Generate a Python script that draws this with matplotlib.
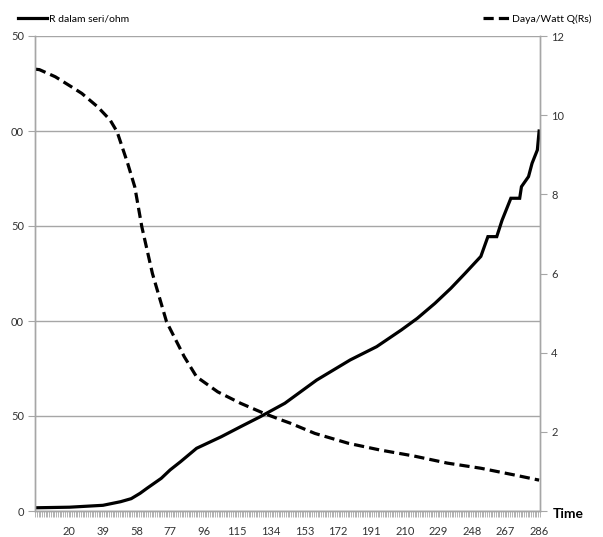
import numpy as np
import matplotlib.pyplot as plt
from matplotlib.lines import Line2D

# Data
t_r = [1, 20, 39, 49, 55, 60, 64, 72, 77, 83, 92, 106, 117, 128, 142, 160, 179, 194, 208,
       217, 227, 236, 244, 253, 257, 262, 265, 270, 275, 276, 280, 282, 285, 286]
r_seri = [1.7, 2.0, 3.0, 4.9, 6.5, 9.3, 12.0, 17.2, 21.6, 26.0, 33.0, 39.1, 44.4, 49.6, 56.7,
          68.9, 79.5, 86.5, 95.3, 101.4, 109.3, 117.2, 125.0, 134.0, 144.4, 144.4, 153.0,
          164.6, 164.6, 170.7, 176.0, 183.0, 190.0, 200.0]

t_p = [1, 3, 12, 21, 27, 36, 43, 47, 53, 57, 61, 67, 75, 85, 92, 104, 117, 130, 140, 145,
       159, 178, 196, 215, 234, 253, 272, 286]
daya = [11.16, 11.15, 10.97, 10.72, 10.55, 10.21, 9.88, 9.58, 8.78, 8.19, 7.18, 6.0, 4.78,
        3.9, 3.39, 3.01, 2.72, 2.47, 2.30, 2.22, 1.96, 1.71, 1.54, 1.39, 1.21, 1.08, 0.91, 0.78]

n_cat = 286
x_labels = list(range(20, 287, 19))
left_ticks = [0, 50, 100, 150, 200, 250]
left_labels = ['0', '50', '00', '50', '00', '50']  # truncated in the original
right_ticks = [0, 2, 4, 6, 8, 10, 12]

plt.rcParams['font.family'] = ['Lato', 'DejaVu Sans']
grey = '#a6a6a6'
txt = '#333333'

fig = plt.figure(figsize=(6.03, 5.37), dpi=100)
ax = fig.add_axes([35/603, 1 - 511/537, 505/603, 475/537])
ax2 = ax.twinx()

ax.plot(t_r, r_seri, color='black', lw=2.3, solid_joinstyle='miter')
ax2.plot(t_p, daya, color='black', lw=2.3, ls=(0, (3.2, 1.6)))

ax.set_xlim(0.5, n_cat + 0.5)
ax.set_ylim(0, 250)
ax2.set_ylim(0, 12)

ax.set_yticks(left_ticks)
ax.set_yticklabels(left_labels)
ax.grid(axis='y', color=grey, lw=1)
ax.set_axisbelow(True)
ax2.set_yticks(right_ticks)
ax2.set_yticklabels(['' if v == 0 else str(v) for v in right_ticks])

ax.set_xticks(x_labels)
ax.set_xticklabels([str(v) for v in x_labels])
ax.set_xticks(np.arange(0.5, n_cat + 1, 1), minor=True)
ax.tick_params(axis='x', which='major', length=0, pad=11, labelsize=8, labelcolor=txt)
ax.tick_params(axis='x', which='minor', length=4, width=0.6, color=grey)
ax.tick_params(axis='y', length=5, color=grey, labelsize=8, labelcolor=txt, pad=3)
ax2.tick_params(axis='y', length=5, color=grey, labelsize=8, labelcolor=txt, pad=3)

for a in (ax, ax2):
    a.spines['top'].set_visible(False)
    for s in ('left', 'right', 'bottom'):
        a.spines[s].set_color(grey)
        a.spines[s].set_linewidth(1)

fig.text(553/603, 1 - 514/537, 'Time', fontsize=10, fontweight='bold', va='center', ha='left')

fig.legend(handles=[Line2D([], [], color='black', lw=2.3)], labels=['R dalam seri/ohm'],
           loc='center left', bbox_to_anchor=(18/603, 1 - 19/537), frameon=False,
           fontsize=7.5, handlelength=2.8, handletextpad=0.2, borderaxespad=0, borderpad=0)
fig.legend(handles=[Line2D([], [], color='black', lw=2.3, ls=(0, (3.2, 1.6)))],
           labels=['Daya/Watt Q(Rs)'],
           loc='center right', bbox_to_anchor=(592/603, 1 - 19/537), frameon=False,
           fontsize=7.5, handlelength=2.5, handletextpad=0.3, borderaxespad=0, borderpad=0)

fig.savefig('out.png', dpi=100)
